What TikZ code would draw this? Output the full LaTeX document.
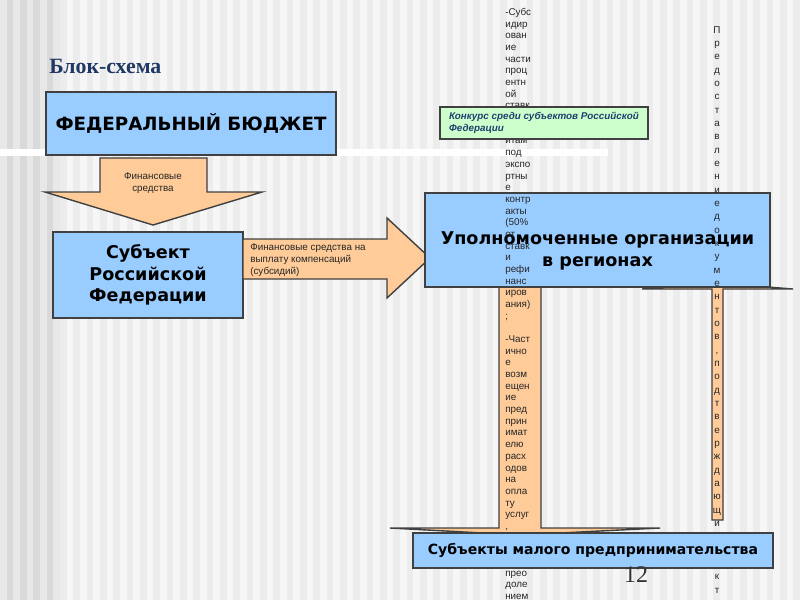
\documentclass[tikz,border=0pt]{standalone}
\usepackage{fontspec}
\setmainfont{Liberation Sans}
\newfontfamily\boxfont{DejaVu Sans}
\newfontfamily\titlefont{Liberation Serif}
\usepackage{tikz}
\usetikzlibrary{calc}
\definecolor{Sky}{HTML}{99CCFF}
\definecolor{Peach}{HTML}{FFCC99}
\definecolor{Mint}{HTML}{CCFFCC}
\definecolor{Navy}{HTML}{1F3864}
\definecolor{Deep}{HTML}{1F3F6F}
\definecolor{Ink}{HTML}{404040}
\definecolor{PaleA}{HTML}{F6F6F6}
\definecolor{PaleB}{HTML}{ECECEC}
\definecolor{GreyA}{HTML}{E8E8E8}
\definecolor{GreyB}{HTML}{D9D9D9}

\begin{document}
\begin{tikzpicture}[x=.025cm,y=-.025cm,
  blok/.style={draw=Ink,line width=1pt,fill=Sky,inner sep=0pt,align=center,
    font=\boxfont\bfseries\fontsize{12.5}{15.3}\selectfont},
  strelka/.style={draw=Ink,line width=1pt,fill=Peach,line join=miter},
  melko/.style={inner sep=0pt,text=black!85,font=\fontsize{7}{8.6}\selectfont}]
  \useasboundingbox (0,0) rectangle (800,600);
  % background stripes
  \fill[PaleA] (0,0) rectangle (800,600);
  \foreach \i in {0,...,59}
    \fill[PaleB] ({\i*13.333+6.667},0) rectangle ({\i*13.333+13.333},600);
  \fill[GreyA] (0,0) rectangle (60,600);
  \foreach \i in {0,...,3}
    \fill[GreyB] ({\i*13.333+6.667},0) rectangle ({\i*13.333+13.333},600);
  \fill[white] (0,149) rectangle (608,156);

  \node[anchor=base west,inner sep=0pt,text=Navy,font=\titlefont\bfseries\fontsize{15.5}{18}\selectfont] (title) at (49,73) {Блок-схема};

  % federal level
  \draw[strelka] (100,158) -- (207,158) -- (207,192) -- (262,192) -- (153,225) -- (45,192) -- (100,192) -- cycle;
  \node[melko,align=center] (fin1) at (153,183.5) {Финансовые\\средства};
  \node[blok,minimum width=7.25cm,minimum height=1.575cm,font=\boxfont\bfseries\fontsize{13}{15.5}\selectfont] (fed) at (191,123.5) {ФЕДЕРАЛЬНЫЙ БЮДЖЕТ};
  \node[blok,minimum width=4.75cm,minimum height=2.15cm] (subj) at (148,275) {Субъект\\Российской\\Федерации};

  \draw[strelka] (243,239) -- (387,239) -- (387,218) -- (430,258) -- (387,298) -- (387,279) -- (243,279) -- cycle;
  \node[melko,anchor=west,align=left] (fin2) at (250,260) {Финансовые средства на\\выплату компенсаций\\(субсидий)};

  % flat-headed arrows to and from the small firms
  \draw[strelka] (499,287) -- (541,287) -- (541,528) -- (660,528) -- (520,535) -- (390,528) -- (499,528) -- cycle;
  \draw[strelka] (712,520) -- (712,289) -- (642,289) -- (717,283) -- (793,289) -- (723,289) -- (723,520) -- cycle;

  \node[blok,minimum width=8.625cm,minimum height=2.35cm] (upoln) at (597.5,240) {};
  \node[blok,draw=none,fill=none] (upolntxt) at ($(upoln.center)+(0,11)$) {Уполномоченные организации\\в регионах};

  % overflowing arrow texts
  \foreach \t [count=\n from 0] in {-Субс,идир,ован,ие,части,проц,ентн,ой,ставк,,,итам,под,экспо,ртны,е,контр,акты,{(50\%},от,ставк,и,рефи,нанс,иров,ания),;,,-Част,ично,е,возм,ещен,ие,пред,прин,имат,елю,расх,одов,на,опла,ту,услуг,{,},,,,прео,доле,нием}
    \node[melko,anchor=base west] (lc\n) at (505,{15.5+11.68*\n}) {\t};
  \foreach \c [count=\n from 0] in {П,р,е,д,о,с,т,а,в,л,е,н,и,е,д,о,к,у,м,е,н,т,о,в,{,},п,о,д,т,в,е,р,ж,д,а,ю,щ,и,,,,к,т}
    \node[melko,anchor=base] (rc\n) at (717,{33.2+13.33*\n}) {\c};

  \node[draw=Ink,line width=1pt,fill=Mint,minimum width=5.2cm,minimum height=.8cm,align=left,text=Deep,
    font=\bfseries\itshape\fontsize{7}{8.6}\selectfont] (konk) at (544,123) {Конкурс среди субъектов Российской\\Федерации};
  \node[blok,minimum width=9cm,minimum height=.875cm,font=\boxfont\bfseries\fontsize{10}{12}\selectfont] (mal) at (593,550.5) {Субъекты малого предпринимательства};

  \node[inner sep=0pt,text=black!80,font=\titlefont\fontsize{17}{20}\selectfont] (num) at (636,575) {12};
\end{tikzpicture}
\end{document}
